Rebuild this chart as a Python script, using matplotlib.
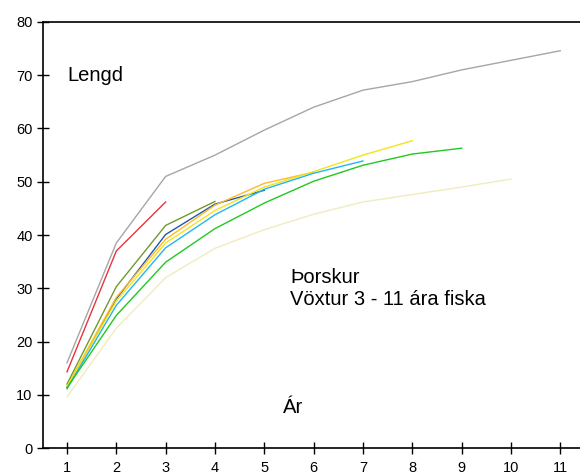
import matplotlib
matplotlib.use("Agg")
import matplotlib.pyplot as plt

plt.rcParams['font.family'] = ['Liberation Sans', 'DejaVu Sans']

# aldur (ár) og meðallengd (cm) eftir árgöngum
ages = [1, 2, 3, 4, 5, 6, 7, 8, 9, 10, 11]

grar = [16.0, 38.5, 51.0, 55.0, 59.7, 64.0, 67.2, 68.8, 71.0, 72.8, 74.6]
raudur = [14.3, 37.0, 46.2]
olifu = [12.0, 30.3, 41.8, 46.3]
dokkblar = [11.4, 28.0, 40.1, 45.8, 48.4]
appelsinu = [11.6, 28.3, 39.2, 45.6, 49.7, 51.8]
gulur = [11.5, 27.6, 38.5, 44.6, 49.0, 51.9, 55.0, 57.7]
ljosblar = [11.1, 26.8, 37.6, 43.8, 48.6, 51.6, 53.9]
graenn = [11.3, 24.9, 34.9, 41.2, 46.0, 50.1, 53.1, 55.2, 56.3]
follgulur = [9.6, 22.5, 32.0, 37.5, 41.0, 43.9, 46.2, 47.6, 49.0, 50.5]

series = [
    (grar, '#a6a6a6'),
    (raudur, '#e8343c'),
    (olifu, '#6f9a2c'),
    (dokkblar, '#2358a6'),
    (appelsinu, '#ffba2a'),
    (gulur, '#f2e41c'),
    (ljosblar, '#22b6f0'),
    (graenn, '#22c822'),
    (follgulur, '#f0ecbe'),
]

fig = plt.figure(figsize=(5.8, 4.76), dpi=100)
ax = fig.add_axes([0.0741, 0.0588, 0.9259, 0.8950])

for vals, col in series:
    ax.plot(ages[:len(vals)], vals, color=col, linewidth=1.0)

ax.set_xlim(0.513, 11.4)
ax.set_ylim(0, 80)
ax.set_xticks(ages)
ax.set_yticks(range(0, 81, 10))

ax.spines['right'].set_visible(False)
for s in ['left', 'bottom', 'top']:
    ax.spines[s].set_linewidth(1.2)
ax.tick_params(direction='inout', length=9, width=1.0, labelsize=10.5, pad=3)
ax.tick_params(axis='x', pad=5)

ax.text(1.0, 70, 'Lengd', fontsize=14.5, va='center', ha='left')
ax.text(5.52, 31.0, 'Þorskur', fontsize=14.5, va='baseline', ha='left')
ax.text(5.52, 26.8, 'Vöxtur 3 - 11 ára fiska', fontsize=14.5, va='baseline', ha='left')
ax.text(5.38, 6.6, 'Ár', fontsize=14.5, va='baseline', ha='left')

fig.savefig('out.png', dpi=100)
